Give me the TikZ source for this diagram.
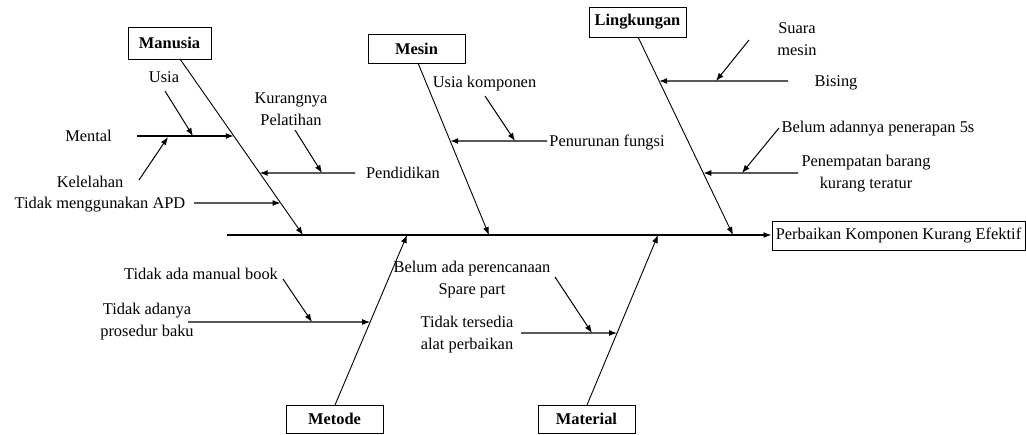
\documentclass[tikz,border=0pt]{standalone}
\usepackage{fontspec}
\setmainfont{Liberation Serif}
\usetikzlibrary{arrows.meta,calc}
\begin{document}
\begin{tikzpicture}[x=1pt,y=-1pt,
  every node/.style={font=\fontsize{16.4}{22}\selectfont},
  cat/.style={draw, line width=1pt, inner sep=0pt, minimum width=97pt, minimum height=29pt, font=\fontsize{16.4}{22}\selectfont\bfseries},
  lbl/.style={inner sep=0pt, anchor=base, align=center},
  bone/.style={line width=0.9pt, -{Latex[length=8pt,width=6pt]}},
  br/.style={line width=1.2pt, -{Latex[length=8pt,width=6pt]}},
  sub/.style={line width=1pt, -{Latex[length=8pt,width=6pt]}}]
\useasboundingbox (0,0) rectangle (1026,434);

% effect box and spine
\node[draw, line width=1pt, inner sep=0pt, minimum width=253pt, minimum height=29pt] (eff) at (898.5,235.5) {Perbaikan Komponen Kurang Efektif};
\coordinate (spS) at (227,235);
\draw[br] (spS) -- (eff.west |- spS);

% category boxes
\node[cat, minimum width=83pt, minimum height=32pt] (man) at (169.5,43) {Manusia};
\node[cat] (mes) at (416.5,48.5) {Mesin};
\node[cat, minimum height=30pt] (lin) at (637.5,22) {Lingkungan};
\node[cat, minimum height=28pt] (met) at (334.5,419) {Metode};
\node[cat, minimum height=28pt] (mat) at (586.5,419) {Material};

% bone end points
\coordinate (manT) at (180,59);   \coordinate (manB) at (303,235);
\coordinate (mesT) at (418,63);   \coordinate (mesB) at (489,235);
\coordinate (linT) at (638,37);   \coordinate (linB) at (733,235);
\coordinate (metT) at (335,405);  \coordinate (metB) at (407,235);
\coordinate (matT) at (587,405);  \coordinate (matB) at (658,235);
\draw[bone] (manT) -- (manB);
\draw[bone] (mesT) -- (mesB);
\draw[bone] (linT) -- (linB);
\draw[bone] (metT) -- (metB);
\draw[bone] (matT) -- (matB);

% points on bones
\coordinate (man1) at ($(manT)!0.4375!(manB)$);
\coordinate (man2) at ($(manT)!0.6477!(manB)$);
\coordinate (man3) at ($(manT)!0.8182!(manB)$);
\coordinate (mes1) at ($(mesT)!0.4535!(mesB)$);
\coordinate (lin1) at ($(linT)!0.2222!(linB)$);
\coordinate (lin2) at ($(linT)!0.6869!(linB)$);
\coordinate (met1) at ($(metT)!0.4882!(metB)$);
\coordinate (mat1) at ($(matT)!0.4235!(matB)$);

% labels (multi-line: base = last line baseline)
\node[lbl] (mental) at (88.5,141.5) {Mental};
\node[lbl] (usia) at (164,82.5) {Usia};
\node[lbl] (kel) at (90,187.5) {Kelelahan};
\node[lbl] (kur) at (291,125.5) {Kurangnya\\Pelatihan};
\node[lbl] (pend) at (403,178.5) {Pendidikan};
\node[lbl] (apd) at (100,208.5) {Tidak menggunakan APD};
\node[lbl] (usk) at (484.5,87.5) {Usia komponen};
\node[lbl] (pen) at (607,146.5) {Penurunan fungsi};
\node[lbl] (sua) at (797,55.5) {Suara\\mesin};
\node[lbl] (bis) at (836,86.5) {Bising};
\node[lbl] (bel5) at (878,132.5) {Belum adannya penerapan 5s};
\node[lbl] (pnb) at (866,188.5) {Penempatan barang\\kurang teratur};
\node[lbl] (tam) at (201,279.5) {Tidak ada manual book};
\node[lbl] (tap) at (147,336) {Tidak adanya\\prosedur baku};
\node[lbl] (bap) at (472,294.5) {Belum ada perencanaan\\Spare part};
\node[lbl] (tts) at (467,349.5) {Tidak tersedia\\alat perbaikan};

% branches (horizontal)
\coordinate (mentalS) at (137,136);
\coordinate (pendS) at (355,173);
\coordinate (apdS) at (194,203);
\coordinate (penS) at (547,141);
\coordinate (bisS) at (788,81);
\coordinate (pnbS) at (798,173);
\coordinate (tapS) at (188,322);
\coordinate (ttsS) at (521,333);
\draw[br] (mentalS) -- (man1);
\draw[br] (pendS) -- (man2);
\draw[br] (apdS) -- (man3);
\draw[br] (penS) -- (mes1);
\draw[br] (bisS) -- (lin1);
\draw[br] (pnbS) -- (lin2);
\draw[br] (tapS) -- (met1);
\draw[br] (ttsS) -- (mat1);

% sub-cause arrows
\coordinate (usiaS) at (165,91);   \coordinate (usiaE) at (193,136);
\coordinate (kelS) at (139,180);   \coordinate (kelE) at (168,137);
\coordinate (kurS) at (295,130);   \coordinate (kurE) at (322,173);
\coordinate (uskS) at (485,96);    \coordinate (uskE) at (515,141);
\coordinate (suaS) at (749,40);    \coordinate (suaE) at (716,81);
\coordinate (belS) at (779,128);   \coordinate (belE) at (742,173);
\coordinate (tamS) at (283,279);   \coordinate (tamE) at (312,322);
\coordinate (bapS) at (555,277);   \coordinate (bapE) at (592,333);
\draw[sub] (usiaS) -- (usiaE);
\draw[sub] (kelS) -- (kelE);
\draw[sub] (kurS) -- (kurE);
\draw[sub] (uskS) -- (uskE);
\draw[sub] (suaS) -- (suaE);
\draw[sub] (belS) -- (belE);
\draw[sub] (tamS) -- (tamE);
\draw[sub] (bapS) -- (bapE);
\end{tikzpicture}
\end{document}
